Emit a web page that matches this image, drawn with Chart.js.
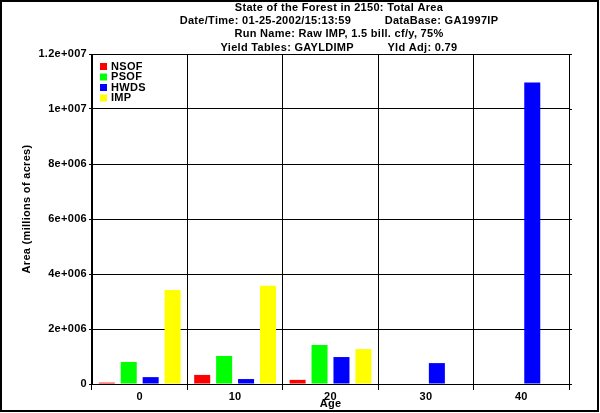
<!DOCTYPE html>
<html lang="en">
  <head>
    <meta charset="utf-8" />
    <title>State of the Forest in 2150: Total Area</title>
    <style>
      * {
        margin: 0;
        padding: 0;
      }
      body {
        background: white;
      }
      canvas {
        display: block;
      }
    </style>
  </head>
  <body>
    <canvas id="myChart" width="600" height="413"></canvas>
    <script src="https://cdn.jsdelivr.net/npm/chart.js"></script>
    <script>
      // data
      const ages = ["0", "10", "20", "30", "40"];
      const nsof = [50000, 330000, 150000, null, null];
      const psof = [800000, 1020000, 1420000, null, null];
      const hwds = [250000, 180000, 980000, 760000, 10960000];
      const imp = [3420000, 3570000, 1270000, null, null];
      const yTicks = [0, 2000000, 4000000, 6000000, 8000000, 10000000, 12000000];

      const titleLines = [
        "State of the Forest in 2150: Total Area",
        "Date/Time: 01-25-2002/15:13:59          DataBase: GA1997IP",
        "Run Name: Raw IMP, 1.5 bill. cf/y, 75%",
        "Yield Tables: GAYLDIMP          Yld Adj: 0.79",
      ];

      const font = "'Liberation Sans', Arial, sans-serif";

      // "2e+006" style labels
      function expLabel(v) {
        if (v === 0) return "0";
        const e = Math.floor(Math.log10(v));
        const m = parseFloat((v / Math.pow(10, e)).toFixed(3));
        return m + "e+" + String(e).padStart(3, "0");
      }

      // old-style wide text (canvas resets it on resize, so set it each time)
      const spacing = {
        id: "spacing",
        beforeUpdate(chart) {
          chart.ctx.letterSpacing = "0.3px";
        },
        beforeDraw(chart) {
          chart.ctx.letterSpacing = "0.3px";
        },
      };

      // four title lines above the plot, y title a bit above plot middle
      const header = {
        id: "header",
        afterDraw(chart) {
          const ctx = chart.ctx;
          ctx.save();
          ctx.font = "bold 11px " + font;
          ctx.fillStyle = "black";
          ctx.textAlign = "center";
          ctx.textBaseline = "middle";
          titleLines.forEach((t, i) => ctx.fillText(t, 339, 8 + i * 13.2));
          ctx.translate(27, 209);
          ctx.rotate(-Math.PI / 2);
          ctx.fillText("Area (millions of acres)", 0, 0);
          ctx.restore();
        },
      };

      // legend drawn inside the plot, top left
      const boxLegend = {
        id: "boxLegend",
        afterDatasetsDraw(chart) {
          const ctx = chart.ctx;
          const a = chart.chartArea;
          ctx.save();
          ctx.font = "bold 11px " + font;
          ctx.textBaseline = "middle";
          chart.data.datasets.forEach((ds, i) => {
            const y = a.top + 9 + i * 10.5;
            ctx.fillStyle = ds.backgroundColor;
            ctx.fillRect(a.left + 8, y, 7, 7);
            ctx.fillStyle = "black";
            ctx.fillText(ds.label, a.left + 19, y + 3.5);
          });
          ctx.restore();
        },
      };

      // short stubs right of the plot + black frame round the picture
      const frame = {
        id: "frame",
        afterDraw(chart) {
          const ctx = chart.ctx;
          const y = chart.scales.y;
          const r = chart.chartArea.right;
          ctx.save();
          ctx.strokeStyle = "black";
          ctx.lineWidth = 1;
          yTicks.forEach((v) => {
            const py = Math.round(y.getPixelForValue(v)) + 0.5;
            ctx.beginPath();
            ctx.moveTo(r, py);
            ctx.lineTo(r + 3, py);
            ctx.stroke();
          });
          ctx.lineWidth = 2;
          ctx.strokeRect(1, 1, 597, 410);
          ctx.restore();
        },
      };

      const data = {
        labels: ages,
        datasets: [
          { label: "NSOF", data: nsof, backgroundColor: "#ff0000" },
          { label: "PSOF", data: psof, backgroundColor: "#00ff00" },
          { label: "HWDS", data: hwds, backgroundColor: "#0000ff" },
          { label: "IMP", data: imp, backgroundColor: "#ffff00" },
        ],
      };

      const config = {
        type: "bar",
        data,
        options: {
          responsive: false,
          animation: false,
          layout: {
            padding: { left: 0, right: 31, top: 54, bottom: 0 },
          },
          datasets: {
            bar: {
              categoryPercentage: 0.92,
              barPercentage: 0.73,
              borderWidth: 0,
            },
          },
          plugins: {
            legend: { display: false },
            tooltip: { enabled: false },
            title: { display: false },
          },
          scales: {
            x: {
              grid: {
                color: "black",
                lineWidth: 1,
                tickLength: 6,
                offset: true,
              },
              border: { color: "black" },
              ticks: {
                color: "black",
                padding: 0,
                font: { family: font, size: 11, weight: "bold" },
              },
              title: {
                display: true,
                text: "Age",
                color: "black",
                padding: { top: 0, bottom: 2 },
                font: { family: font, size: 11, weight: "bold" },
              },
              afterFit(scale) {
                scale.height = 29;
              },
            },
            y: {
              min: 0,
              max: 12000000,
              grid: { color: "black", lineWidth: 1, tickLength: 3 },
              border: { color: "black" },
              afterBuildTicks(scale) {
                scale.ticks = yTicks.map((v) => ({ value: v }));
              },
              ticks: {
                color: "black",
                padding: 2,
                font: { family: font, size: 11, weight: "bold" },
                callback: (v) => expLabel(v),
              },
              afterFit(scale) {
                scale.width = 92;
              },
            },
          },
        },
        plugins: [spacing, header, boxLegend, frame],
      };

      const myChart = new Chart(document.getElementById("myChart"), config);
    </script>
  </body>
</html>
